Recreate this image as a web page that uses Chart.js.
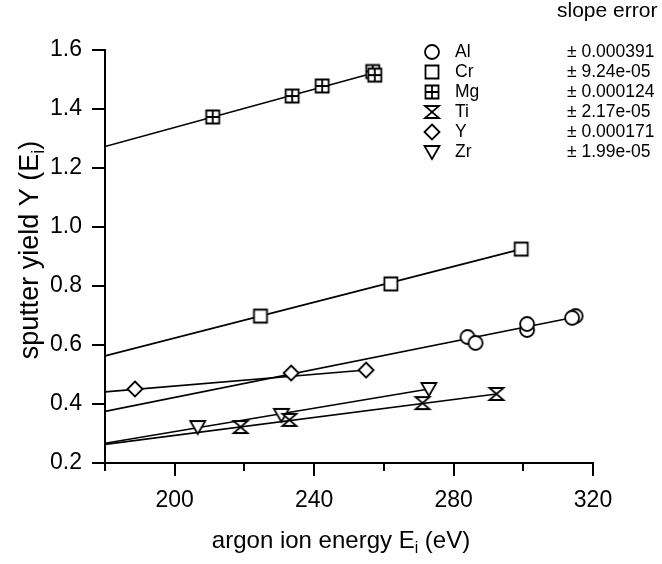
<!DOCTYPE html>
<html>
<head>
<meta charset="utf-8">
<script src="https://cdn.jsdelivr.net/npm/chart.js@4"></script>
<style>
  body { margin: 0; background: #fff; }
  canvas { display: block; }
</style>
</head>
<body>
<canvas id="yield-chart" width="662" height="564"></canvas>
<script>
// sputter yield vs argon ion energy, one fit line per element
const elements = ['Al', 'Cr', 'Mg', 'Ti', 'Y', 'Zr'];
const slopeErrors = ['± 0.000391', '± 9.24e-05', '± 0.000124', '± 2.17e-05', '± 0.000171', '± 1.99e-05'];

const alX = [284, 286.3, 301.1, 301.1, 315, 314];
const alY = [0.627, 0.607, 0.651, 0.671, 0.698, 0.692];
const crX = [224.6, 262, 299.4];
const crY = [0.698, 0.807, 0.925];
const mgX = [210.9, 233.7, 242.3, 256.8, 257.4];
const mgY = [1.373, 1.444, 1.478, 1.527, 1.515];
const tiX = [218.9, 232.9, 271.1, 292.3];
const tiY = [0.322, 0.346, 0.403, 0.434];
const yX = [188.6, 233.4, 254.9];
const yY = [0.451, 0.505, 0.515];
const zrX = [206.6, 230.6, 272.9];
const zrY = [0.322, 0.363, 0.451];

// fitted lines: start / end of each
const fitStartX = [180, 180, 180, 180, 180, 180];
const fitStartY = [0.375, 0.563, 1.273, 0.263, 0.441, 0.267];
const fitEndX = [315, 299.4, 257, 292.3, 254.9, 272.9];
const fitEndY = [0.695, 0.925, 1.522, 0.434, 0.515, 0.451];

const xMajor = [200, 240, 280, 320];
const xMinor = [180, 220, 260, 300];
const yTicks = [0.2, 0.4, 0.6, 0.8, 1.0, 1.2, 1.4, 1.6];

const FONT = '"Liberation Sans", Arial, Helvetica, sans-serif';

function makeMarker(kind) {
    const c = document.createElement('canvas');
    c.width = 20;
    c.height = 20;
    const g = c.getContext('2d');
    g.strokeStyle = '#000';
    g.fillStyle = '#fff';
    g.lineWidth = 1.8;
    g.beginPath();
    if (kind === 'circle') {
        g.arc(10, 10, 7, 0, Math.PI * 2);
    } else if (kind === 'square' || kind === 'squarePlus') {
        g.rect(3.5, 3.5, 13, 13);
    } else if (kind === 'hourglass') {
        g.moveTo(3, 4); g.lineTo(17, 4); g.lineTo(3, 16); g.lineTo(17, 16); g.closePath();
    } else if (kind === 'diamond') {
        g.moveTo(10, 2.5); g.lineTo(17.5, 10); g.lineTo(10, 17.5); g.lineTo(2.5, 10); g.closePath();
    } else if (kind === 'triDown') {
        g.moveTo(2.5, 4); g.lineTo(17.5, 4); g.lineTo(10, 17); g.closePath();
    }
    g.fill();
    g.stroke();
    if (kind === 'squarePlus') {
        g.beginPath();
        g.moveTo(10, 3.5); g.lineTo(10, 16.5);
        g.moveTo(3.5, 10); g.lineTo(16.5, 10);
        g.stroke();
    }
    return c;
}

const markers = [
    makeMarker('circle'),
    makeMarker('square'),
    makeMarker('squarePlus'),
    makeMarker('hourglass'),
    makeMarker('diamond'),
    makeMarker('triDown')
];

const seriesX = [alX, crX, mgX, tiX, yX, zrX];
const seriesY = [alY, crY, mgY, tiY, yY, zrY];

const datasets = [];
elements.forEach((name, i) => {
    datasets.push({
        label: name + ' fit',
        data: [{x: fitStartX[i], y: fitStartY[i]}, {x: fitEndX[i], y: fitEndY[i]}],
        showLine: true,
        borderColor: '#000',
        borderWidth: 1.6,
        pointRadius: 0,
        order: 2
    });
    datasets.push({
        label: name,
        data: seriesX[i].map((x, j) => ({x: x, y: seriesY[i][j]})),
        showLine: false,
        pointStyle: markers[i],
        pointRadius: 7,
        order: 1
    });
});

// draw text with a subscript part, centred at x
function drawSubText(ctx, parts, x, y, size) {
    let total = 0;
    parts.forEach(p => {
        ctx.font = (p[1] ? size * 0.65 : size) + 'px ' + FONT;
        total += ctx.measureText(p[0]).width;
    });
    let cx = x - total / 2;
    parts.forEach(p => {
        ctx.font = (p[1] ? size * 0.65 : size) + 'px ' + FONT;
        ctx.fillText(p[0], cx, p[1] ? y + size * 0.3 : y);
        cx += ctx.measureText(p[0]).width;
    });
}

const decorations = {
    id: 'decorations',
    afterDraw(chart) {
        const ctx = chart.ctx;
        const xs = chart.scales.x;
        const bottom = chart.chartArea.bottom;
        ctx.save();
        // minor ticks on x
        ctx.strokeStyle = '#000';
        ctx.lineWidth = 2;
        xMinor.forEach(v => {
            const px = Math.round(xs.getPixelForValue(v));
            ctx.beginPath();
            ctx.moveTo(px, bottom);
            ctx.lineTo(px, bottom + 8);
            ctx.stroke();
        });
        // axis titles
        ctx.fillStyle = '#000';
        ctx.textBaseline = 'middle';
        ctx.textAlign = 'left';
        drawSubText(ctx, [['argon ion energy E', 0], ['i', 1], [' (eV)', 0]], 341, 541, 24);
        ctx.save();
        ctx.translate(31, 250);
        ctx.rotate(-Math.PI / 2);
        drawSubText(ctx, [['sputter yield Y (E', 0], ['i', 1], [')', 0]], 0, 0, 27);
        ctx.restore();
        // legend
        ctx.font = '21px ' + FONT;
        ctx.fillText('slope error', 557, 11);
        ctx.font = '17.5px ' + FONT;
        elements.forEach((name, i) => {
            const ry = 52 + i * 20;
            ctx.drawImage(markers[i], 432 - 10, ry - 10);
            ctx.fillText(name, 455, ry);
            ctx.fillText(slopeErrors[i], 567, ry);
        });
        ctx.restore();
    }
};

const configForYield = {
    type: 'scatter',
    data: {datasets: datasets},
    options: {
        responsive: false,
        animation: false,
        layout: {padding: {top: 50, right: 69, left: 0, bottom: 0}},
        plugins: {
            legend: {display: false},
            tooltip: {enabled: false}
        },
        scales: {
            x: {
                type: 'linear',
                min: 180,
                max: 320,
                afterBuildTicks: scale => { scale.ticks = xMajor.map(v => ({value: v})); },
                afterFit: scale => { scale.height = 101; },
                border: {color: '#000', width: 2},
                grid: {drawOnChartArea: false, color: '#000', lineWidth: 2, tickLength: 13},
                ticks: {color: '#000', padding: 11, maxRotation: 0, font: {family: FONT, size: 23}}
            },
            y: {
                type: 'linear',
                min: 0.2,
                max: 1.6,
                afterBuildTicks: scale => { scale.ticks = yTicks.map(v => ({value: v})); },
                afterFit: scale => { scale.width = 105; },
                border: {color: '#000', width: 2},
                grid: {drawOnChartArea: false, color: '#000', lineWidth: 2, tickLength: 13},
                ticks: {color: '#000', padding: 10, font: {family: FONT, size: 23},
                    callback: v => v.toFixed(1)}
            }
        }
    },
    plugins: [decorations]
};

const yieldChart = new Chart(document.getElementById('yield-chart'), configForYield);
</script>
</body>
</html>
